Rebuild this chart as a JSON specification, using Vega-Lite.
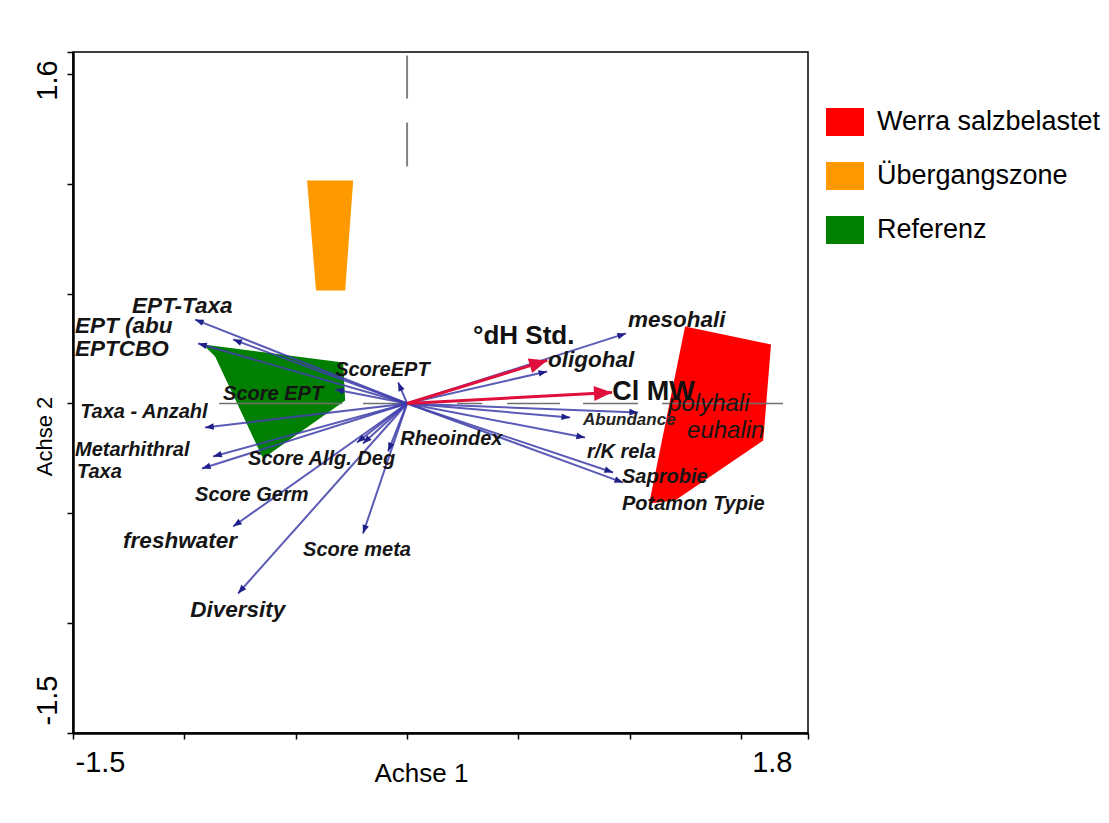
{
  "$schema": "https://vega.github.io/schema/vega-lite/v6.json",
  "width": 735,
  "height": 681,
  "autosize": {"type": "none"},
  "padding": {"left": 73, "top": 52, "right": 301, "bottom": 90},
  "background": "white",
  "config": {
    "view": {"stroke": "black", "strokeWidth": 1.5},
    "font": "Liberation Sans"
  },
  "datasets": {
    "polys": [
      {"zone": "Referenz", "i": 1, "x": -0.916, "y": 0.269},
      {"zone": "Referenz", "i": 2, "x": -0.287, "y": 0.187},
      {"zone": "Referenz", "i": 3, "x": -0.278, "y": 0.014},
      {"zone": "Referenz", "i": 4, "x": -0.647, "y": -0.25},
      {"zone": "Referenz", "i": 5, "x": -0.862, "y": 0.214},
      {"zone": "Werra salzbelastet", "i": 1, "x": 1.248, "y": 0.35},
      {"zone": "Werra salzbelastet", "i": 2, "x": 1.634, "y": 0.269},
      {"zone": "Werra salzbelastet", "i": 3, "x": 1.599, "y": -0.168},
      {"zone": "Werra salzbelastet", "i": 4, "x": 1.203, "y": -0.442},
      {"zone": "Werra salzbelastet", "i": 5, "x": 1.087, "y": -0.455},
      {"zone": "Übergangszone", "i": 1, "x": -0.449, "y": 1.015},
      {"zone": "Übergangszone", "i": 2, "x": -0.242, "y": 1.015},
      {"zone": "Übergangszone", "i": 3, "x": -0.278, "y": 0.514},
      {"zone": "Übergangszone", "i": 4, "x": -0.409, "y": 0.514}
    ],
    "hline": [
      {"x": -0.844, "x2": -0.292},
      {"x": -0.198, "x2": 0},
      {"x": 0.225, "x2": 0.337},
      {"x": 0.449, "x2": 0.687},
      {"x": 0.79, "x2": 1.037},
      {"x": 1.145, "x2": 1.688}
    ],
    "vline": [
      {"y": 1.584, "y2": 1.388},
      {"y": 1.279, "y2": 1.079}
    ],
    "arrows": [
      {"name": "EPT-Taxa", "kind": "var", "x": -0.952, "y": 0.382},
      {"name": "EPT (abu", "kind": "var", "x": -0.781, "y": 0.291},
      {"name": "EPTCBO", "kind": "var", "x": -0.938, "y": 0.273},
      {"name": "Score EPT", "kind": "var", "x": -0.323, "y": 0.064},
      {"name": "ScoreEPT", "kind": "var", "x": -0.04, "y": 0.096},
      {"name": "Taxa - Anzahl", "kind": "var", "x": -0.907, "y": -0.109},
      {"name": "Metarhithral", "kind": "var", "x": -0.871, "y": -0.241},
      {"name": "Taxa", "kind": "var", "x": -0.921, "y": -0.296},
      {"name": "Score Germ", "kind": "var", "x": -0.225, "y": -0.178},
      {"name": "Score Allg. Deg", "kind": "var", "x": -0.198, "y": -0.182},
      {"name": "Rheoindex", "kind": "var", "x": -0.085, "y": -0.218},
      {"name": "freshwater", "kind": "var", "x": -0.781, "y": -0.56},
      {"name": "Diversity", "kind": "var", "x": -0.759, "y": -0.865},
      {"name": "Score meta", "kind": "var", "x": -0.198, "y": -0.592},
      {"name": "mesohali", "kind": "var", "x": 0.983, "y": 0.319},
      {"name": "oligohal", "kind": "var", "x": 0.629, "y": 0.146},
      {"name": "Abundance 1", "kind": "var", "x": 0.732, "y": -0.064},
      {"name": "Abundance", "kind": "var", "x": 1.037, "y": -0.041},
      {"name": "r/K rela", "kind": "var", "x": 0.799, "y": -0.155},
      {"name": "Saprobie", "kind": "var", "x": 0.925, "y": -0.314},
      {"name": "Potamon Typie", "kind": "var", "x": 0.97, "y": -0.36},
      {"name": "°dH Std.", "kind": "env", "x": 0.629, "y": 0.196},
      {"name": "Cl MW", "kind": "env", "x": 0.92, "y": 0.05}
    ],
    "labels": [
      {"label": "EPT-Taxa", "kind": "group", "x": -1.235, "y": 0.414},
      {"label": "EPT (abu", "kind": "group", "x": -1.491, "y": 0.323},
      {"label": "EPTCBO", "kind": "group", "x": -1.491, "y": 0.218},
      {"label": "ScoreEPT", "kind": "var", "x": -0.323, "y": 0.127},
      {"label": "Score EPT", "kind": "var", "x": -0.826, "y": 0.014},
      {"label": "Taxa - Anzahl", "kind": "var", "x": -1.468, "y": -0.068},
      {"label": "Metarhithral", "kind": "var", "x": -1.491, "y": -0.237},
      {"label": "Taxa", "kind": "var", "x": -1.482, "y": -0.341},
      {"label": "Score Allg. Deg", "kind": "var", "x": -0.714, "y": -0.282},
      {"label": "Score Germ", "kind": "var", "x": -0.952, "y": -0.442},
      {"label": "freshwater", "kind": "group", "x": -1.275, "y": -0.66},
      {"label": "Score meta", "kind": "var", "x": -0.467, "y": -0.692},
      {"label": "Diversity", "kind": "group", "x": -0.974, "y": -0.974},
      {"label": "Rheoindex", "kind": "var", "x": -0.031, "y": -0.191},
      {"label": "mesohali", "kind": "group", "x": 0.992, "y": 0.346},
      {"label": "oligohal", "kind": "group", "x": 0.633, "y": 0.164},
      {"label": "r/K rela", "kind": "var", "x": 0.808, "y": -0.246},
      {"label": "Saprobie", "kind": "var", "x": 0.965, "y": -0.36},
      {"label": "Potamon Typie", "kind": "var", "x": 0.965, "y": -0.487},
      {"label": "Abundance", "kind": "small", "x": 0.79, "y": -0.1},
      {"label": "polyhali", "kind": "zone", "x": 1.172, "y": -0.032},
      {"label": "euhalin", "kind": "zone", "x": 1.257, "y": -0.159},
      {"label": "°dH Std.", "kind": "env", "x": 0.296, "y": 0.273},
      {"label": "Cl MW", "kind": "env2", "x": 0.921, "y": 0.014}
    ]
  },
  "layer": [
    {
      "data": {"name": "polys"},
      "mark": {"type": "line", "strokeWidth": 0, "fillOpacity": 1, "clip": true},
      "encoding": {
        "x": {
          "field": "x", "type": "quantitative",
          "scale": {"domain": [-1.5, 1.8], "nice": false, "zero": false},
          "axis": {
            "values": [-1.5, -1, -0.5, 0, 0.5, 1, 1.5, 1.8],
            "labelExpr": "datum.value == -1.5 ? '-1.5' : (datum.value == 1.8 ? '1.8' : '')",
            "labelAlign": {"condition": {"test": "datum.value < 0", "value": "left"}, "value": "right"},
            "labelOffset": {"condition": {"test": "datum.value < 0", "value": 2}, "value": -16},
            "labelFontSize": 29,
            "labelFont": "Liberation Sans",
            "labelColor": "black",
            "labelPadding": 9,
            "labelOverlap": false,
            "labelBound": false,
            "labelFlush": false,
            "tickSize": 6,
            "tickColor": "black",
            "tickWidth": 1.5,
            "domainColor": "black",
            "domainWidth": 2.5,
            "grid": false,
            "title": "Achse 1",
            "titleFont": "Liberation Sans",
            "titleFontSize": 26,
            "titleFontWeight": "normal",
            "titleColor": "black",
            "titleX": 348,
            "titleY": 48,
            "titleBaseline": "alphabetic"
          }
        },
        "y": {
          "field": "y", "type": "quantitative",
          "scale": {"domain": [-1.5, 1.6], "nice": false, "zero": false},
          "axis": {
            "values": [-1.5, -1, -0.5, 0, 0.5, 1, 1.5, 1.6],
            "labelExpr": "datum.value == 1.6 ? '1.6' : (datum.value == -1.5 ? '-1.5' : '')",
            "labelAngle": -90,
            "labelAlign": "center",
            "labelBaseline": "bottom",
            "labelOffset": {"condition": {"test": "datum.value > 0", "value": 28}, "value": -33},
            "labelFontSize": 29,
            "labelFont": "Liberation Sans",
            "labelColor": "black",
            "labelPadding": 5,
            "labelOverlap": false,
            "labelBound": false,
            "labelFlush": false,
            "tickSize": 6,
            "tickColor": "black",
            "tickWidth": 1.5,
            "domainColor": "black",
            "domainWidth": 2.5,
            "grid": false,
            "title": "Achse 2",
            "titleFont": "Liberation Sans",
            "titleFontSize": 22,
            "titleFontWeight": "normal",
            "titleColor": "black",
            "titleAngle": -90,
            "titleX": -22,
            "titleY": 384,
            "titleAlign": "center",
            "titleBaseline": "alphabetic"
          }
        },
        "order": {"field": "i", "type": "ordinal"},
        "fill": {
          "field": "zone", "type": "nominal",
          "scale": {
            "domain": ["Werra salzbelastet", "Übergangszone", "Referenz"],
            "range": ["#ff0000", "#ff9900", "#007f00"]
          },
          "legend": {
            "orient": "none",
            "legendX": 753,
            "legendY": 51,
            "title": null,
            "symbolType": "M-1,-0.737H1V0.737H-1Z",
            "symbolSize": 1444,
            "symbolStrokeWidth": 0,
            "symbolOpacity": 1,
            "labelFont": "Liberation Sans",
            "labelFontSize": 27,
            "labelColor": "black",
            "labelOffset": 13,
            "rowPadding": 20,
            "labelLimit": 400
          }
        }
      }
    },
    {
      "data": {"name": "hline"},
      "mark": {"type": "rule", "color": "#707070", "strokeWidth": 1.5},
      "encoding": {
        "x": {"field": "x", "type": "quantitative"},
        "x2": {"field": "x2"},
        "y": {"datum": 0, "type": "quantitative"}
      }
    },
    {
      "data": {"name": "vline"},
      "mark": {"type": "rule", "color": "#808080", "strokeWidth": 2},
      "encoding": {
        "y": {"field": "y", "type": "quantitative"},
        "y2": {"field": "y2"},
        "x": {"datum": 0, "type": "quantitative"}
      }
    },
    {
      "data": {"name": "arrows"},
      "transform": [{"filter": "datum.kind == 'var'"}],
      "mark": {"type": "rule", "color": "#3e3eaa", "strokeWidth": 2, "opacity": 0.85},
      "encoding": {
        "x": {"field": "x", "type": "quantitative"},
        "y": {"field": "y", "type": "quantitative"},
        "x2": {"datum": 0},
        "y2": {"datum": 0}
      }
    },
    {
      "data": {"name": "arrows"},
      "transform": [
        {"filter": "datum.kind == 'var'"},
        {"calculate": "atan2(datum.x * 222.7, datum.y * 219.7) * 180 / PI", "as": "ang"}
      ],
      "mark": {"type": "point", "shape": "M0,0L-0.38,1L0.38,1Z", "filled": true, "size": 300, "color": "#20208a", "opacity": 1},
      "encoding": {
        "x": {"field": "x", "type": "quantitative"},
        "y": {"field": "y", "type": "quantitative"},
        "angle": {"field": "ang", "type": "quantitative", "scale": null}
      }
    },
    {
      "data": {"name": "arrows"},
      "transform": [{"filter": "datum.kind == 'env'"}],
      "mark": {"type": "rule", "color": "#e0103c", "strokeWidth": 3},
      "encoding": {
        "x": {"field": "x", "type": "quantitative"},
        "y": {"field": "y", "type": "quantitative"},
        "x2": {"datum": 0},
        "y2": {"datum": 0}
      }
    },
    {
      "data": {"name": "arrows"},
      "transform": [
        {"filter": "datum.kind == 'env'"},
        {"calculate": "atan2(datum.x * 222.7, datum.y * 219.7) * 180 / PI", "as": "ang"}
      ],
      "mark": {"type": "point", "shape": "M0,0L-0.42,1L0.42,1Z", "filled": true, "size": 1296, "color": "#e0103c", "opacity": 1},
      "encoding": {
        "x": {"field": "x", "type": "quantitative"},
        "y": {"field": "y", "type": "quantitative"},
        "angle": {"field": "ang", "type": "quantitative", "scale": null}
      }
    },
    {
      "data": {"name": "labels"},
      "transform": [{"filter": "datum.kind == 'var'"}],
      "mark": {"type": "text", "align": "left", "baseline": "alphabetic", "font": "Liberation Sans", "fontSize": 20, "fontStyle": "italic", "fontWeight": "bold", "color": "#151515"},
      "encoding": {
        "x": {"field": "x", "type": "quantitative"},
        "y": {"field": "y", "type": "quantitative"},
        "text": {"field": "label"}
      }
    },
    {
      "data": {"name": "labels"},
      "transform": [{"filter": "datum.kind == 'group'"}],
      "mark": {"type": "text", "align": "left", "baseline": "alphabetic", "font": "Liberation Sans", "fontSize": 22.5, "fontStyle": "italic", "fontWeight": "bold", "color": "#151515"},
      "encoding": {
        "x": {"field": "x", "type": "quantitative"},
        "y": {"field": "y", "type": "quantitative"},
        "text": {"field": "label"}
      }
    },
    {
      "data": {"name": "labels"},
      "transform": [{"filter": "datum.kind == 'small'"}],
      "mark": {"type": "text", "align": "left", "baseline": "alphabetic", "font": "Liberation Sans", "fontSize": 17, "fontStyle": "italic", "fontWeight": "bold", "color": "#222222"},
      "encoding": {
        "x": {"field": "x", "type": "quantitative"},
        "y": {"field": "y", "type": "quantitative"},
        "text": {"field": "label"}
      }
    },
    {
      "data": {"name": "labels"},
      "transform": [{"filter": "datum.kind == 'zone'"}],
      "mark": {"type": "text", "align": "left", "baseline": "alphabetic", "font": "Liberation Sans", "fontSize": 24, "fontStyle": "italic", "fontWeight": "normal", "color": "#151515"},
      "encoding": {
        "x": {"field": "x", "type": "quantitative"},
        "y": {"field": "y", "type": "quantitative"},
        "text": {"field": "label"}
      }
    },
    {
      "data": {"name": "labels"},
      "transform": [{"filter": "datum.kind == 'env'"}],
      "mark": {"type": "text", "align": "left", "baseline": "alphabetic", "font": "Liberation Sans", "fontSize": 26, "fontWeight": "bold", "color": "#111111"},
      "encoding": {
        "x": {"field": "x", "type": "quantitative"},
        "y": {"field": "y", "type": "quantitative"},
        "text": {"field": "label"}
      }
    },
    {
      "data": {"name": "labels"},
      "transform": [{"filter": "datum.kind == 'env2'"}],
      "mark": {"type": "text", "align": "left", "baseline": "alphabetic", "font": "Liberation Sans", "fontSize": 27, "fontWeight": "bold", "color": "#111111"},
      "encoding": {
        "x": {"field": "x", "type": "quantitative"},
        "y": {"field": "y", "type": "quantitative"},
        "text": {"field": "label"}
      }
    }
  ]
}
